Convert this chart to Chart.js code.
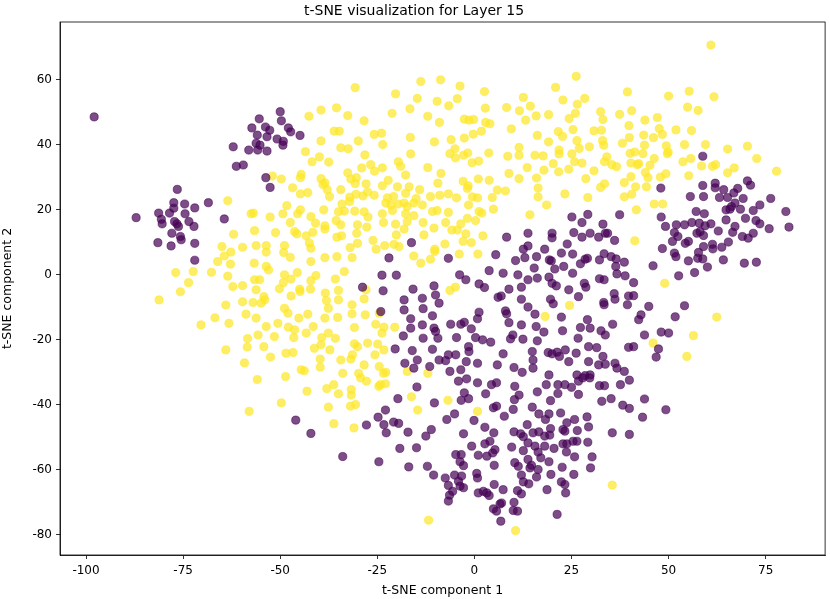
<!DOCTYPE html>
<html>
<head>
<meta charset="utf-8">
<title>t-SNE visualization for Layer 15</title>
<script src="https://cdn.jsdelivr.net/npm/chart.js@4.4.1/dist/chart.umd.min.js"></script>
<style>
    html, body { margin: 0; padding: 0; background: #ffffff; }
    #wrap { width: 830px; height: 599px; }
</style>
</head>
<body>
<div id="wrap"><canvas id="tsneChart"></canvas></div>
<script>
/* ==========================================================
   DATA  (t-SNE component 1, t-SNE component 2)
========================================================== */

const titleText = "t-SNE visualization for Layer 15";
const xLabel = "t-SNE component 1";
const yLabel = "t-SNE component 2";

const xTicks = [-100, -75, -50, -25, 0, 25, 50, 75];
const yTicks = [-80, -60, -40, -20, 0, 20, 40, 60];

const xRange = [-106.7, 90.3];
const yRange = [-86.2, 77.8];

// class 0 (dark purple)
const purplePoints = [
    [-97.9,48.6],[-57.3,45.2],[-62.1,39.4],[-58.1,38.4],[-61.3,33.4],[-59.5,33.8],[-76.5,26.3],
    [-50,50.2],[-55.4,48],[-49.7,47.4],[-53.8,45.5],[-52.7,44.5],[-47.9,45.2],[-47.3,44],[-44.9,42.9],
    [-55.9,43],[-53.4,42.5],[-50.8,41.8],[-49.2,41.1],[-56.2,40.5],[-55.2,39.9],[-49.3,39.9],[-55.8,38.4],
    [-53.4,38.1],[-53.7,29.9],[-52.6,26.9],
    [58.8,36.5],[48,26.7],[58.8,27.5],[62,28.2],[62,26.8],[64.2,26.2],[67.8,26.6],[66.8,25.2],[70.3,28.9],
    [71.1,27.6],[55.6,24.1],[59,24.1],[63.1,23.8],[65.2,23.8],[69.2,23.5],[76.3,23.5],
    [-87.1,17.6],[-77.4,22.2],[-74.6,21.8],[-68.5,22.2],[-72,20.6],[-77.4,20.5],[-81.3,19],[-78.5,19],
    [-74.5,18.8],[-80.6,17.1],[-80.4,15.7],[-77.2,16.4],[-76.6,15.7],[-76.2,14.9],[-73.5,16.4],[-72.2,14.9],
    [-77.9,12.8],[-75.7,11.8],[-75.5,10.8],[-81.5,9.9],[-78.1,8.9],[-72,9.7],[-72,4.5],[-64.4,17.2],
    [-16.2,9.9],[-22,5.2],[-23.8,-0.1],[-20.1,-0.1],[-23.5,-4.9],[-15.8,-4.4],[-10.4,-3.4],[-18.1,-7.7],
    [-18.1,-10.8],[-13.4,-7.2],[-10,-6.2],[-9.1,-8.7],[-13.2,-10.4],[-24.1,-11.3],[-16.4,-13.5],[-10.8,-12.6],
    [-16.4,-16.4],[-13.4,-15.4],[-10.4,-16.4],[-10,-17.4],[-18.3,-18.8],[-13.2,-19.5],[-9.4,-19.5],[-20.4,-22.8],
    [-16,-23.3],[-10.8,-22.9],[-17.9,-27.2],[-14.7,-26.2],[-15.6,-28.7],[-11.5,-28.2],[-9.1,-26.2],[-28.8,-3.8],
    [25.1,17.8],[29.2,18.6],[27.7,16.1],[37.4,18.5],[33.1,15.6],[13.8,12.8],[8.3,11.6],[20,12.8],[20,11.4],
    [25.6,13],[29.8,12.8],[32,11.6],[33.7,12.8],[34.3,12.8],[27.7,11.6],[36.1,10.6],[23.9,9.5],[13.8,8.9],
    [12.6,7.9],[18.1,7.9],[5.5,6.2],[-6.7,5.1],[10.6,4.4],[13,5.3],[16,5.6],[19.3,4.6],[19.8,4.3],[22.4,6.7],
    [25.3,6.4],[28.5,4.8],[29.1,5.1],[32.2,4.6],[33.4,6.5],[35.2,5.6],[36.5,4.9],[38.6,3.9],[27.3,3.4],
    [3.8,1.3],[7.4,0.5],[11.2,0],[15.4,2.1],[20.7,1.8],[23,2.6],[25.3,0.5],[36.4,2.6],[36.7,0.3],[38.8,-0.3],
    [-3.8,0],[-2.2,-1.5],[1.2,-2.8],[2.6,-3.9],[13.8,-1.5],[16.2,-1],[19.2,-0.7],[20,-2.6],[21.1,-3.4],
    [24.3,-4.6],[28.3,-2.6],[28.7,-3.8],[32.2,-1.2],[33.4,-1.5],[36,-5.8],[36.2,-7.5],[39.7,-6.5],[8.9,-4.4],
    [12.1,-3.8],[6.1,-6.9],[6.9,-6.5],[12.1,-7.5],[19.6,-7.5],[20.3,-8.9],[26.8,-6.7],[33.3,-8.5],[33.4,-9.2],
    [39.4,-9.2],[13.8,-9.9],[1.2,-11.5],[8,-11.1],[8.3,-12],[15.6,-12.1],[22.4,-13],[29.1,-13.8],[0.8,-13.5],
    [-6.1,-15.2],[-3.5,-15.2],[-2.6,-14.6],[-0.8,-16.6],[8.9,-14.7],[12.1,-15.4],[15.9,-15.9],[17.9,-17.6],
    [22.7,-17.2],[27.3,-16.2],[29.8,-16.4],[32.6,-17.2],[33.7,-18.5],[35.6,-15.2],[-4.6,-19.3],[0.3,-19.3],
    [2.1,-20],[4.2,-20.7],[9.9,-18.5],[9.3,-19.7],[12.5,-19.8],[16.2,-20.3],[26.7,-19.5],[39.7,-22.3],
    [-1.5,-22.1],[-1.4,-23.6],[7.4,-24.3],[14.9,-23.6],[19,-23.9],[20,-24.3],[21.3,-23.8],[23.4,-23.1],
    [26.2,-24.1],[29.4,-22.1],[31.5,-22.4],[33.1,-25.1],[-6.7,-24.6],[-4.8,-24.6],[-7.4,-26.4],[-2.1,-26.7],
    [0.8,-27.2],[5.9,-27.7],[10.2,-28.5],[15.1,-26.2],[15.1,-28.7],[21.9,-25.1],[24.3,-26.7],[29.4,-26.7],
    [32,-27.7],[33.7,-27.5],[36.2,-27.2],[36.7,-28.7],[38.6,-29.7],[-6.3,-29.7],[-3.5,-29.2],[12.3,-30],
    [19.2,-30.8],[26.4,-30.8],[28.5,-31],[29.8,-30.8],
    [67.1,22.1],[73.5,21.5],[64.8,20],[66.2,21],[65.8,20.2],[68.5,20.2],[71.8,19.8],[80.2,19.5],[57.1,19.5],
    [59.2,18.8],[48.1,17.8],[69.8,17.4],[72.5,16.7],[73.5,15.7],[81,14.7],[75.9,14.2],[49.2,14.9],[52,15.4],
    [54.1,15.4],[56,16.1],[57.9,15.9],[59.4,15.1],[60.9,15.7],[64.8,16.9],[62.8,13.5],[66.5,13.1],[67.1,14.9],
    [69,11.8],[70.5,11.3],[71.8,12.8],[51.5,13],[52.4,11.8],[57.3,12.8],[58.1,13.3],[59,12.1],[55.1,10.3],
    [54.3,9.7],[51,10.3],[59,8.7],[61.3,9.4],[61.4,8],[63.7,8.5],[65.4,10.1],[48.4,8.1],[51.5,6.7],[51.9,5.6],
    [57.7,6.9],[57.5,5.1],[58.8,4.9],[55.1,4.3],[64.1,4.6],[69.5,3.6],[72.6,3.9],[46,2.8],[60,2.4],[56.7,0.7],
    [52.6,-0.3],[41,-2.4],[41,-6.4],[44.9,-9.7],[54.1,-9.5],[42.9,-12.3],[42.3,-13.8],[51.7,-12.9],[43.8,-18.5],
    [48.1,-17.6],[50,-17.9],[41,-22.1],[47.4,-22.8],[46.8,-25.3],
    [-46,-44.7],[-42.1,-48.8],[-33.9,-55.9],[-27.8,-46.2],[-24.8,-43.8],[-24.6,-57.5],
    [-14.8,-34.5],[-4.1,-32.7],[-2,-32],[0.8,-33.2],[4.4,-33.8],[5.7,-33.2],[-19.7,-38.1],[-10.3,-39.4],
    [-3.4,-38.6],[-1.5,-38.1],[-2.6,-36.3],[2.9,-36.6],[4.9,-40.9],[5.7,-40.4],[7.7,-43.5],[-22.9,-41.6],
    [-23.3,-46.1],[-22.7,-48.6],[-20.8,-45.3],[-19.5,-45.7],[-7.1,-44.5],[-5.1,-42.8],[-0.1,-44.8],
    [-17.1,-48.4],[-11.1,-47.6],[-12.5,-49.6],[-2.8,-48.9],[2.7,-46.9],[5,-48.6],[-19.2,-53.4],[-14.9,-53.2],
    [-0.7,-52.7],[2.7,-52],[4,-51.2],[5.3,-53.8],[4.7,-54.8],[3.2,-55.8],[-4.8,-55.3],[-3.4,-55.3],
    [-3.7,-57.5],[1,-55.5],[5.1,-58.6],[-16.9,-59.1],[-12.1,-58.9],[-10.5,-61.6],[-7.5,-62.5],[-5.1,-61.6],
    [-3.3,-61.9],[0.6,-61.1],[0.8,-62.5],[-6.7,-64.8],[-4.1,-63.5],[-3.7,-65],[-2.8,-65.5],[-5.6,-66.6],
    [-6.4,-67.8],[-6.7,-69.6],[1,-67.1],[2.3,-66.6],[3.2,-67.1],[3.8,-67.9],[5.1,-64.5],[7.4,-66.1],[7,-70.2],
    [6.6,-70.5],[4.9,-72],[5.7,-72.7],[6.8,-75.8],[-2.8,-58.7],
    [10.4,-34.3],[10.3,-38.4],[11.5,-37],[10,-41.4],[16.2,-36],[18.5,-33.8],[21.5,-33.8],[23.3,-33.8],[25,-34.6],
    [26.8,-32.7],[27.9,-31.7],[29.7,-31.7],[21.5,-36.5],[26.8,-36.8],[19.6,-38.7],[32.2,-34.1],[33.5,-34.1],
    [37.6,-33.8],[39.9,-32.4],[32.8,-38.9],[35.2,-38.1],[38.2,-40.1],[39.9,-41.1],[14.9,-40.7],[16.6,-42.8],
    [19.2,-42.8],[18.3,-44.5],[22.2,-42.5],[29,-43.7],[25.8,-44.5],[23.8,-45.5],[13.6,-46.1],[29.4,-46.8],
    [26.5,-47.9],[22.8,-47.6],[23.3,-48.1],[19.6,-47.3],[10.2,-48.3],[11.9,-48.9],[12.6,-49.8],[15.1,-48.6],
    [16.6,-48.3],[18.1,-49.6],[19.4,-49.3],[35.5,-48.6],[39.9,-49.1],[13.8,-51.7],[15.6,-52.7],[18.1,-52.7],
    [20.5,-53.4],[22.8,-52],[23.8,-52],[25.4,-51.2],[26.4,-51.2],[29.2,-51.5],[9.6,-53],[12.6,-54.1],
    [16.4,-54.5],[17.1,-56.3],[23.7,-54.5],[25.8,-56],[30.3,-56],[13.8,-56.8],[19.2,-57.5],[10.4,-57.8],
    [11.3,-58.9],[14.7,-58.6],[14.3,-59.4],[16.4,-59.9],[22.6,-59.2],[29.9,-59.4],[12.1,-61.6],[16,-62.2],
    [19.7,-61.4],[25.6,-61.4],[12.6,-63.7],[14,-64.3],[22.4,-63.7],[23.3,-64.5],[18.7,-66.1],[23.5,-67.1],
    [11.1,-66.4],[12.1,-67.4],[10.2,-70],[10,-72.5],[11.1,-72.7],[21.3,-73.7],
    [43.8,-38.2],[49.3,-41.5],[43.3,-43.8]
];

// class 1 (yellow)
const yellowPoints = [
    [-30.7,57.6],[-13.8,59.5],[-8.7,60],[-20.3,55.7],[-14.7,54.3],[-9.6,53.4],[-42.6,48.8],[-39.5,50.7],
    [-35.5,51.4],[-32.6,49],[-28.4,47.4],[-21.2,49.7],[-16.6,51.1],[-12,48.8],[-9,46.9],[-36.1,44.2],
    [-34.8,44.2],[-25.8,43.2],[-23.9,43.6],[-39.5,41.2],[-29.9,41.2],[-23.6,40.1],[-16.5,42.3],[-10.3,40.9],
    [-43.5,37.9],[-34.4,39.1],[-32.5,38.8],[-39.9,36.3],[-41.8,34.8],[-37.5,34.7],[-28.2,36.9],[-16.4,37.2],
    [-19.6,34.8],[-19,33.4],[-29,32.9],[-26.7,33.9],[-25.7,31.9],[-23.7,32.9],[-12,33],[-17.7,30.7],
    [-8.6,31.2],[-52,30.4],[-49.7,29.5],[-44.6,30.9],[-44.8,29.9],[-39.5,29.6],[-39,27.8],[-38.5,28.3],
    [-32.6,31.4],[-30.4,29.9],[-31.8,29.5],[-30.7,28.1],[-27.9,28],[-22.2,29.1],[-23.7,27.4],[-19.8,27.1],
    [-16.8,27.1],[-14.1,26.2],[-9.4,28.2],[-46.8,26.8],[-44.8,24.9],[-42.9,25.3],[-37.9,26.2],[-37.3,24.1],
    [-34.4,26.2],[-32.1,23.9],[-30.5,24.8],[-28.7,24.3],[-25.8,24.5],[-27.5,25.5],[-22.4,23.7],[-20.8,24.1],
    [-17.7,25.1],[-15,23.5],[-11.3,24.1],[-8.9,24.5],
    [26.2,61.1],[-3.7,58.1],[2.6,56.4],[-4.4,54.2],[-6.6,52],[20.9,57.7],[39.4,56.3],[12.6,54.6],[22.8,53.8],
    [28.4,54.3],[26.5,52.5],[8.3,51.5],[11.6,50.5],[14.4,51.9],[2.8,51.3],[26,49.7],[24.4,48.1],[32.5,50.2],
    [33.1,47.8],[37.4,49.4],[40.5,50.5],[19.1,49.3],[15.9,48.9],[13.2,47.6],[-2.6,47.9],[-1.4,47.6],
    [-0.2,47.8],[2.9,46.9],[4,46.5],[9.5,44.9],[1.8,44.2],[-0.3,43.3],[-6,41.6],[-2.6,42.1],[16.2,42.9],
    [21.6,44.1],[22.7,42.6],[25.4,44.7],[30.8,44.3],[32.7,44.5],[39.8,45.9],[33,41.3],[33.3,39.9],[26.4,41.3],
    [19.1,40.9],[38.1,40.5],[39.9,42.2],[11.5,39.2],[21.8,38.4],[21.8,37.2],[27,38.9],[29.6,39.4],[-5,38.8],
    [-6.3,37.3],[-4.9,36],[-2.8,36.8],[-1.7,37.5],[3.7,37.5],[1.1,35],[-0.6,34.5],[8.6,36.5],[11.5,36.8],
    [15.6,36.8],[17.7,36.6],[25.1,37.2],[34.1,36.3],[33.5,34.8],[35.4,33.9],[36.6,33.3],[40.1,37.4],
    [40.3,34.4],[25.8,34.8],[27.7,34.4],[13.6,33],[20.3,34.2],[17.9,32.2],[21.7,31.7],[24.3,32.5],[30.8,32],
    [8.9,31.2],[11.5,29.6],[16,29.8],[1,29.5],[3.8,29.1],[-2.9,28.8],[-1.6,27.4],[-1.8,26.6],[28.7,29.6],
    [33.5,28],[32.5,26.9],[38.6,28.4],[16.4,26.7],[5.9,26.1],[8,25.8],[23.3,24.9],[16.4,24],[-6.7,24.9],
    [-4.6,23.7],[-0.5,24],[0.8,23.7],[4.6,23.8],[29.2,23.8],[38.6,24],[40.5,24.8],[40.3,30.2],
    [60.9,70.7],[50,55],[55.3,56.5],[61.7,54.8],[54.9,51.6],[57.6,50.6],[43.9,47.6],[47.1,48.4],[47.6,45],
    [48.4,43.2],[46.1,42.2],[43.6,43],[51.9,44.6],[55.9,44.4],[43.8,39.9],[49.4,39.7],[49.9,37.8],[49.7,37.3],
    [54.1,40.1],[59.5,40.1],[65.2,38.7],[70.3,39.6],[72.7,35.8],[77.8,31.9],[41.3,37.8],[43.4,37.3],
    [41.9,33.9],[42.3,34.2],[45.2,33.7],[46.3,35.8],[53.7,34.8],[55.7,35.8],[58.5,33.5],[61.3,33.4],
    [62.1,33.9],[66.9,32.9],[65.2,31.4],[44,31.5],[44.7,29.9],[47.9,30.1],[49.3,31.1],[55.2,30.5],[44.3,27.1],
    [41.5,27.1],
    [-63.5,22.8],[-57.5,18.8],[-62,12.5],[-65,8.7],[-59.7,8.5],[-62.7,7],[-64.4,5.8],[-66.1,4.1],[-62.8,3.3],
    [-76.9,0.7],[-72.4,1],[-67.7,0.8],[-63.5,-0.4],[-73.6,-2.4],[-75.7,-5.2],[-81.2,-7.7],[-62.2,-3.6],
    [-59.7,-3.3],[-59.7,-8.3],[-64,-9.3],[-58.8,-12.1],[-66.8,-13.2],[-70.4,-15.4],[-63.2,-14.9],[-58.4,-19.6],
    [-58.5,-22.2],[-64,-23.1],[-59.2,-27.1],
    [-48.3,21.3],[-56.9,19],[-52.6,17.8],[-49.3,18.8],[-45.5,18.8],[-44.8,20],[-42.1,17.9],[-38.8,20],
    [-34.1,21.8],[-32.1,22.6],[-35,19.4],[-33.5,19.6],[-30.8,19.6],[-28.4,19.4],[-27.4,17.8],[-23.7,18.8],
    [-22.8,22.1],[-21.5,21.5],[-21.1,19.8],[-19.6,21.8],[-18.1,22.1],[-17.3,21],[-15.6,22.1],[-17.7,18.8],
    [-15.6,18.2],[-13.4,21.5],[-10.8,19.5],[-9.6,19.8],
    [-56.6,13.6],[-51.2,13],[-47.4,16.1],[-46.3,13.3],[-45.7,12.6],[-43.3,12],[-40.9,15.9],[-41.6,13.1],
    [-38.5,15.1],[-38.5,14.1],[-35.6,16.7],[-34.4,15.4],[-35.4,11.6],[-34.2,12],[-30.1,15.4],[-30.3,12.8],
    [-27.7,14.7],[-23.4,16.1],[-20.3,15.6],[-18.1,14.1],[-17.3,16.4],[-20.1,12.3],[-13.2,16.1],[-13,12.3],
    [-10.4,14.4],
    [-56.2,9],[-53.6,9],[-53.6,7],[-48.9,9],[-49.1,6.9],[-47.4,5.4],[-42.5,9.8],[-42.1,8.2],[-42.1,4.1],
    [-38.5,5.3],[-35.4,5.6],[-32,8.4],[-30.1,9.7],[-31.5,5.3],[-26.1,10.6],[-25.3,7.9],[-23.1,9],[-20.7,9.4],
    [-19.4,8.7],[-15.6,5.8],[-13.8,3.6],[-10.2,7.9],[-10.2,7.2],[-11.3,4.8],[-56.7,3.6],[-53.6,2.6],[-53,1.5],
    [-48.9,0],[-47.2,-1.3],[-49.2,-2.4],[-45.6,0.7],[-40.8,-0.2],[-42.1,-1.8],[-35.8,-1.3],[-33.5,1],
    [-56.6,-1.5],[-55.3,-1.5],[-50.2,-4.3],[-56.2,-4.6],[-54.2,-6.7],[-54,-7.7],[-54.9,-8.7],[-57,-8.5],
    [-47.2,-6.5],[-45,-4.4],[-44.9,-5.1],[-42.2,-4.4],[-38.4,-5.6],[-35,-4.8],[-38.1,-7.9],[-35,-7.7],
    [-37.6,-10.3],[-31.5,-9.2],[-28.4,-7.4],[-27.9,-4.6],[-24.5,-11.8],
    [-48.9,-10.3],[-48,-11.8],[-56.2,-13.3],[-53.6,-15.9],[-50.6,-14.9],[-45.2,-13.3],[-42.9,-12.1],
    [-47.9,-16.1],[-46.3,-16.9],[-41.5,-15.9],[-38.5,-13.3],[-35.2,-13.1],[-31.5,-12],[-28.1,-12.3],
    [-30.9,-16.2],[-55.7,-18.5],[-51.5,-19],[-46.5,-19.3],[-43.3,-17.9],[-39.3,-19.3],[-37.6,-17.9],
    [-35.8,-19.5],[-25.4,-15.2],[-23.3,-16.1],[-23.8,-17.9],[-20.5,-16.1],
    [-54.2,-22.1],[-48.5,-24.1],[-46.7,-23.9],[-52.5,-25.3],[-41.2,-22.6],[-39.5,-21.5],[-37.2,-23.1],
    [-30.9,-21.2],[-30.1,-22.1],[-27.5,-21],[-31.4,-24.6],[-31.8,-25.9],[-24.9,-21.3],[-23.3,-23.1],
    [-25.6,-24.6],[-39.7,-25.9],[-34.4,-26.2],[-39.7,-28.4],[-44.6,-29.2],[-43.8,-29.5],[-48.6,-31.3],
    [-33.9,-30.3],[-28.4,-27.7],[-29.8,-30.3],[-24.5,-28.2],[-22.8,-30],[-23.4,-30.3],[-17.3,-29.7],[-12,-30.3],
    [-1.5,21.5],[1.2,19.5],[1.9,19],[4.9,20.2],[-6.7,19.2],[-1.8,17.4],[-3.5,15.7],[-7.4,16.1],[0.3,16.7],
    [-5.8,13.8],[-4.4,13.8],[-2.2,12.6],[2.2,12],[-2.9,10.3],[-0.8,9.9],[-7.6,9.5],[-3.9,6.4],[0.9,6.4],
    [14.3,18.5],[18.6,21.5],[-4.9,-3.8],[-6.3,-4.8],[24.5,-9.4],[18.2,-12.8],
    [46.3,21.8],[48.5,21.8],[41.7,20],[41.3,10.5],[49,-2.6],[62.4,-13],[56.4,-18.7],[46,-21],[54.7,-25.1],
    [-55.9,-32.2],[-43.1,-35.8],[-49.7,-39.4],[-58,-42],[-38,-35],[-36.2,-33.8],[-35,-36.6],[-31.7,-35.3],
    [-31.7,-37],[-37.6,-40.7],[-31.9,-40.4],[-30.6,-39.9],[-29.3,-31.7],[-27.8,-32.7],[-36.2,-45.8],
    [-31,-47.1],[-24.6,-34.3],
    [-22.9,-33.5],[-24.2,-33.8],[-16.2,-37.5],[-14.6,-41.6],[-6.8,-38.6],[0.8,-42],[-11.8,-75.5],
    [35.5,-64.7],[10.6,-78.7]
];

/* ==========================================================
   PLUGINS
========================================================== */

const whiteBackground = {
    id: "whiteBackground",
    beforeDraw(chart) {
        const ctx = chart.ctx;
        ctx.save();
        ctx.fillStyle = "#ffffff";
        ctx.fillRect(0, 0, chart.width, chart.height);
        ctx.restore();
    }
};

// matplotlib style box around the axes
const axesFrame = {
    id: "axesFrame",
    afterDraw(chart) {
        const { ctx, chartArea: a } = chart;
        ctx.save();
        ctx.strokeStyle = "#000000";
        ctx.lineWidth = 0.8;
        ctx.strokeRect(a.left, a.top, a.right - a.left, a.bottom - a.top);
        ctx.restore();
    }
};

/* ==========================================================
   CHART
========================================================== */

const toXY = p => ({ x: p[0], y: p[1] });

const tickFont = { family: "DejaVu Sans", size: 12 };
const labelFont = { family: "DejaVu Sans", size: 12.5 };

const ctx = document.getElementById("tsneChart").getContext("2d");

new Chart(ctx, {

    type: "scatter",

    data: {
        datasets: [
            {
                label: "0",
                data: purplePoints.map(toXY),
                backgroundColor: "rgba(68,1,84,0.7)",
                borderColor: "rgba(68,1,84,0.7)",
                borderWidth: 0.8,
                pointRadius: 4.1,
                pointHoverRadius: 4.1
            },
            {
                label: "1",
                data: yellowPoints.map(toXY),
                backgroundColor: "rgba(253,231,37,0.7)",
                borderColor: "rgba(253,231,37,0.7)",
                borderWidth: 0.8,
                pointRadius: 4.1,
                pointHoverRadius: 4.1
            }
        ]
    },

    options: {
        responsive: true,
        maintainAspectRatio: false,
        animation: false,
        events: [],
        layout: { padding: { top: 0, right: 2, bottom: 0, left: 0 } },

        plugins: {
            legend: { display: false },
            tooltip: { enabled: false },
            title: {
                display: true,
                text: titleText,
                color: "#000000",
                font: { family: "DejaVu Sans", size: 14, weight: "normal", lineHeight: 1.2 },
                padding: { top: 3, bottom: 2.2 }
            }
        },

        scales: {
            x: {
                type: "linear",
                min: xRange[0],
                max: xRange[1],
                afterBuildTicks: scale => { scale.ticks = xTicks.map(v => ({ value: v })); },
                afterFit: scale => { scale.height = 44; },
                grid: {
                    drawOnChartArea: false,
                    drawTicks: true,
                    tickLength: 4,
                    color: "#000000",
                    lineWidth: 0.8
                },
                border: { display: true, color: "#000000", width: 0.8 },
                ticks: { color: "#000000", font: tickFont, padding: 5, maxRotation: 0 },
                title: {
                    display: true,
                    text: xLabel,
                    color: "#000000",
                    font: labelFont,
                    padding: { top: 0, bottom: 1 }
                }
            },
            y: {
                type: "linear",
                min: yRange[0],
                max: yRange[1],
                afterBuildTicks: scale => { scale.ticks = yTicks.map(v => ({ value: v })); },
                afterFit: scale => { scale.width = 60; },
                grid: {
                    drawOnChartArea: false,
                    drawTicks: true,
                    tickLength: 4,
                    color: "#000000",
                    lineWidth: 0.8
                },
                border: { display: true, color: "#000000", width: 0.8 },
                ticks: { color: "#000000", font: tickFont, padding: 4 },
                title: {
                    display: true,
                    text: yLabel,
                    color: "#000000",
                    font: labelFont,
                    padding: { top: 0.5, bottom: 0 }
                }
            }
        }
    },

    plugins: [whiteBackground, axesFrame]

});
</script>
</body>
</html>
